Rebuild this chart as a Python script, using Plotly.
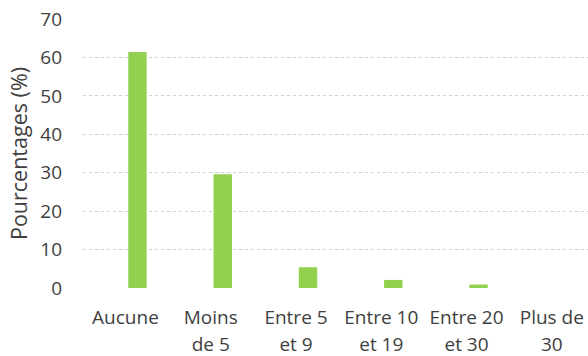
import plotly.graph_objects as go

categories = ["Aucune", "Moins de 5", "Entre 5 et 9", "Entre 10 et 19", "Entre 20 et 30", "Plus de 30"]
label_line1 = ["Aucune", "Moins", "Entre 5", "Entre 10", "Entre 20", "Plus de"]
label_line2 = ["", "de 5", "et 9", "et 19", "et 30", "30"]
values = [61.4, 29.6, 5.4, 2.1, 0.9, 0.0]
y_ticks = [0, 10, 20, 30, 40, 50, 60, 70]

idx = list(range(len(categories)))
x_range = [-0.639, 5.284]
label_shift = 12 / 85.25  # labels sit slightly left of bar centres
lab_range = [x_range[0] + label_shift, x_range[1] + label_shift]

fig = go.Figure()
fig.add_trace(go.Bar(
    x=idx, y=values, xaxis="x", yaxis="y",
    marker=dict(color="#92D050", line=dict(width=0)),
    width=0.216, hoverinfo="skip",
))
for ax in ("x2", "x3"):
    fig.add_trace(go.Scatter(x=idx, y=values, xaxis=ax, yaxis="y", mode="markers",
                             marker=dict(opacity=0), hoverinfo="skip", showlegend=False))

font_col = "#404040"
fig.update_layout(
    width=588, height=356,
    margin=dict(l=83, r=0, t=19, b=68),
    paper_bgcolor="white", plot_bgcolor="white",
    font=dict(family="Open Sans", size=19, color=font_col),
    showlegend=False,
    xaxis=dict(range=x_range, showticklabels=False, showgrid=False, zeroline=False,
               showline=False, ticks="", automargin=False),
    xaxis2=dict(overlaying="x", anchor="y", side="bottom", range=lab_range,
                tickmode="array", tickvals=idx, ticktext=label_line1,
                showgrid=False, zeroline=False, showline=False, ticks="",
                ticklabelstandoff=16, automargin=False, ticklabeloverflow="allow",
                tickfont=dict(size=19, color=font_col)),
    xaxis3=dict(overlaying="x", anchor="y", side="bottom", range=lab_range,
                tickmode="array", tickvals=idx, ticktext=label_line2,
                showgrid=False, zeroline=False, showline=False, ticks="",
                ticklabelstandoff=43, automargin=False, ticklabeloverflow="allow",
                tickfont=dict(size=19, color=font_col)),
    yaxis=dict(range=[0, 70], tickmode="array", tickvals=y_ticks,
               showgrid=True, gridcolor="#cfcfcf", griddash="dot", gridwidth=1,
               zeroline=False, showline=False, ticks="", ticklabelstandoff=20,
               automargin=False, tickfont=dict(size=19, color=font_col),
               title=dict(text="Pourcentages (%)", standoff=6,
                          font=dict(size=21.5, color=font_col))),
)
fig.write_html("out.html", config={"displayModeBar": False},
               post_script="document.body.style.margin='0px';")
